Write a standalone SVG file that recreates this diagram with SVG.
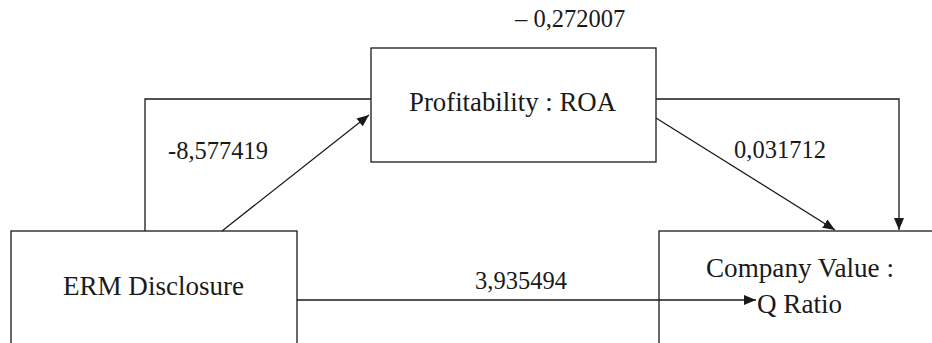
<svg xmlns="http://www.w3.org/2000/svg" width="932" height="343" viewBox="0 0 932 343">
<style>
.box{fill:none;stroke:#1a1a1a;stroke-width:1.3}
.ln{fill:none;stroke:#1a1a1a;stroke-width:1.3}
.t{font-family:'Liberation Serif','DejaVu Serif','Times New Roman',serif;font-size:24.5px;fill:#1a1a1a}
.w{font-size:26.5px}
</style>
<defs>
<marker id="ah" viewBox="0 0 12 10" refX="12" refY="5" markerWidth="12" markerHeight="10" markerUnits="userSpaceOnUse" orient="auto">
<path d="M0,0 L12,5 L0,10 Z" fill="#1a1a1a"/>
</marker>
</defs>
<rect width="932" height="343" fill="#fff"/>
<g id="erm">
<rect class="box" x="11" y="231" width="286" height="140"/>
<text class="t w" x="63" y="295" textLength="181" lengthAdjust="spacingAndGlyphs">ERM Disclosure</text>
</g>
<g id="roa">
<rect class="box" x="371" y="48" width="285" height="114"/>
<text class="t w" x="409" y="111" textLength="207" lengthAdjust="spacingAndGlyphs">Profitability : ROA</text>
</g>
<g id="company">
<rect class="box" x="659" y="231" width="300" height="140"/>
<text class="t w" x="706" y="277" textLength="188" lengthAdjust="spacingAndGlyphs">Company Value :</text>
<text class="t w" x="757" y="313" textLength="85" lengthAdjust="spacingAndGlyphs">Q Ratio</text>
</g>
<g id="connectors">
<polyline class="ln" points="145,231 145,99 371,99"/>
<line class="ln" x1="222" y1="231" x2="369" y2="115" marker-end="url(#ah)"/>
<polyline class="ln" points="656,99 899,99 899,230" marker-end="url(#ah)"/>
<line class="ln" x1="656" y1="118" x2="835" y2="230" marker-end="url(#ah)"/>
<line class="ln" x1="297" y1="300" x2="756" y2="300" marker-end="url(#ah)"/>
</g>
<g id="labels">
<text class="t" x="515" y="27">– 0,272007</text>
<text class="t" x="168" y="159">-8,577419</text>
<text class="t" x="734" y="158">0,031712</text>
<text class="t" x="475" y="289">3,935494</text>
</g>
</svg>
